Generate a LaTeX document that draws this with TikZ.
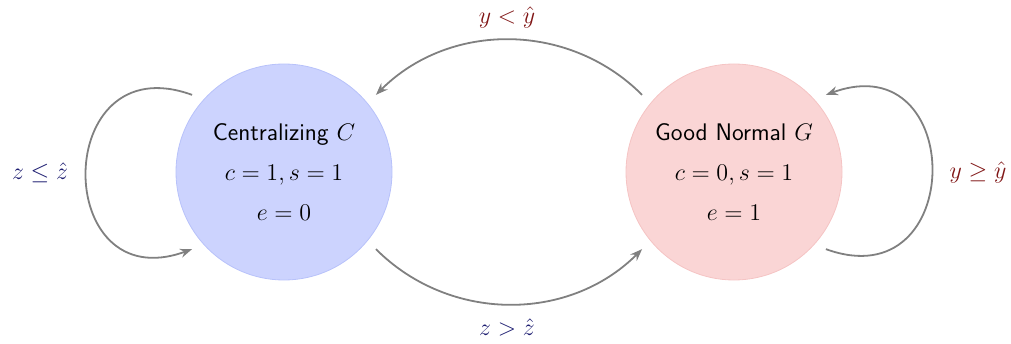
\documentclass[tikz,border=0pt]{standalone}
\usepackage{amsmath}
\usepackage{amssymb}
\usepackage{xcolor}
\usepackage{tikz}
\usetikzlibrary{positioning, arrows.meta}

\definecolor{cfill}{RGB}{204,211,254}
\definecolor{cline}{RGB}{184,194,250}
\definecolor{gfill}{RGB}{250,213,213}
\definecolor{gline}{RGB}{245,196,196}
\definecolor{navy}{RGB}{28,28,112}
\definecolor{maroon}{RGB}{128,22,22}

\begin{document}
\begin{tikzpicture}[
    x=0.5pt, y=0.5pt,
    >=Stealth,
    state/.style={circle, minimum size=108pt, inner sep=0pt, outer sep=6pt, align=center, font=\large\sffamily},
    arr/.style={->, >={Stealth[length=6pt, width=4.5pt]}, draw=gray, line width=0.9pt},
    lblue/.style={font=\large, text=navy},
    lred/.style={font=\large, text=maroon},
]
\useasboundingbox (0,0) rectangle (1011,343);

% === States ===
\node[state, fill=cfill, draw=cline] (C) at (284,171) {Centralizing $C$\\[6pt] $c=1, s=1$\\[6pt] $e=0$};
\node[state, fill=gfill, draw=gline] (G) at (734,171) {Good Normal $G$\\[6pt] $c=0, s=1$\\[6pt] $e=1$};

% --- transitions between states ---
\draw[arr] (G.140) to[bend right=45] (C.40);
\draw[arr] (C.-40) to[bend right=45] (G.-140);

% --- self loops ---
\draw[arr] (C.140) .. controls +(160:150) and +(200:150) .. (C.220);
\draw[arr] (G.-40) .. controls +(-20:150) and +(20:150) .. (G.40);

% --- labels ---
\node[lred] (up) at (507,325) {$y < \hat{y}$};
\node[lblue] (dn) at (507,16) {$z > \hat{z}$};
\node[lblue] (lc) at (40,170) {$z \leq \hat{z}$};
\node[lred] (lg) at (978,170) {$y \geq \hat{y}$};

\end{tikzpicture}
\end{document}
